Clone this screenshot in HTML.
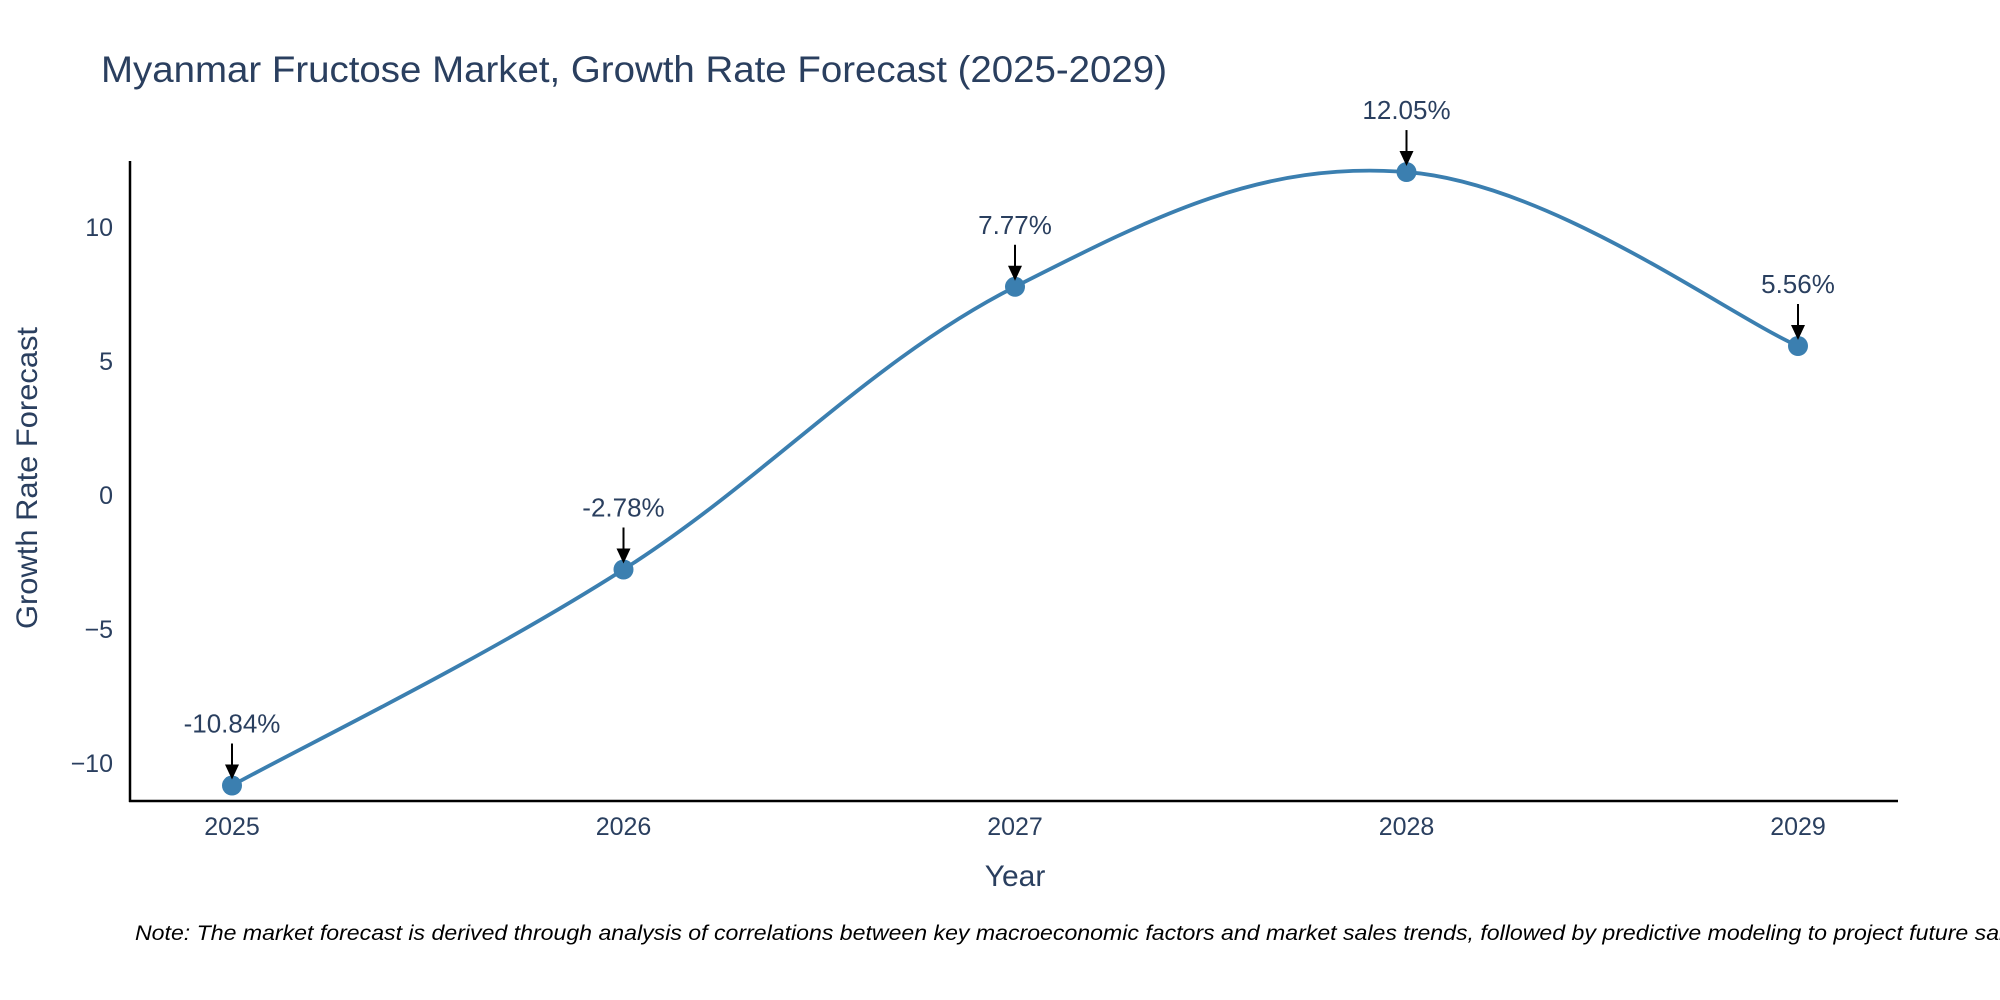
<!DOCTYPE html>
<html><head><meta charset="utf-8"><style>
html,body{margin:0;padding:0;background:#fff;}
svg{display:block;font-family:"Liberation Sans",sans-serif;}
</style></head><body>
<svg id="chart" width="2000" height="1000" viewBox="0 0 2000 1000">
<text x="101" y="82" font-size="37" textLength="1066" lengthAdjust="spacingAndGlyphs" fill="#2a3f5f">Myanmar Fructose Market, Growth Rate Forecast (2025-2029)</text>
<g id="yticks"></g>
<g id="xticks"></g>
<line x1="130" y1="161" x2="130" y2="802" stroke="#000" stroke-width="2.5"/>
<line x1="129" y1="801" x2="1898" y2="801" stroke="#000" stroke-width="2.5"/>
<text transform="translate(37,478) rotate(-90)" text-anchor="middle" font-size="30" textLength="302" lengthAdjust="spacingAndGlyphs" fill="#2a3f5f">Growth Rate Forecast</text>
<text x="1015" y="886" text-anchor="middle" font-size="30" fill="#2a3f5f">Year</text>
<g id="series"></g>
<g id="annots"></g>
<text x="135" y="940" font-size="21" font-style="italic" textLength="1900" lengthAdjust="spacingAndGlyphs" fill="#000">Note: The market forecast is derived through analysis of correlations between key macroeconomic factors and market sales trends, followed by predictive modeling to project future sales.</text>
</svg>
<script>
const categories = [2025, 2026, 2027, 2028, 2029];
const growthValues = [-10.84, -2.78, 7.77, 12.05, 5.56];
const valueLabels = ["-10.84%", "-2.78%", "7.77%", "12.05%", "5.56%"];
const yTickValues = [-10, -5, 0, 5, 10];
const yTickLabels = ["\u221210", "\u22125", "0", "5", "10"];

const NS = "http://www.w3.org/2000/svg";
function xs(year){ return 232 + (year - 2025) * 391.5; }
function ys(v){ return 495 - v * 26.8; }
function mk(tag, attrs, parent){
  const e = document.createElementNS(NS, tag);
  for (const k in attrs) e.setAttribute(k, attrs[k]);
  parent.appendChild(e);
  return e;
}
const yt = document.getElementById('yticks');
yTickValues.forEach((v,i)=>{
  const t = mk('text',{x:113,y:ys(v)+9,'text-anchor':'end','font-size':25,fill:'#2a3f5f'},yt);
  
  
  t.textContent = yTickLabels[i];
});
const xt = document.getElementById('xticks');
categories.forEach(c=>{
  const t = mk('text',{x:xs(c),y:835,'text-anchor':'middle','font-size':25,fill:'#2a3f5f'},xt);
  
  
  t.textContent = String(c);
});
const pts = categories.map((c,i)=>[xs(c), ys(growthValues[i])]);
let d = `M${pts[0][0]},${pts[0][1]}`;
const tn = 0.55;
for (let i=0;i<pts.length-1;i++){
  const p0 = pts[Math.max(0,i-1)], p1 = pts[i], p2 = pts[i+1], p3 = pts[Math.min(pts.length-1,i+2)];
  const c1 = [p1[0]+(p2[0]-p0[0])*tn/3, p1[1]+(p2[1]-p0[1])*tn/3];
  const c2 = [p2[0]-(p3[0]-p1[0])*tn/3, p2[1]-(p3[1]-p1[1])*tn/3];
  d += ` C${c1[0]},${c1[1]} ${c2[0]},${c2[1]} ${p2[0]},${p2[1]}`;
}
const sg = document.getElementById('series');
const line = mk('path',{d:d,fill:'none',stroke:'#3b7fb0','stroke-width':3.8},sg);


pts.forEach(p=>{
  const c = mk('circle',{cx:p[0],cy:p[1],r:10,fill:'#3b7fb0'},sg);
  
  
});
const an = document.getElementById('annots');
pts.forEach((p,i)=>{
  const l = mk('line',{x1:p[0],y1:p[1]-42,x2:p[0],y2:p[1]-20,stroke:'#000','stroke-width':2},an);
  
  
  const h = mk('path',{d:`M${p[0]-7},${p[1]-21} L${p[0]+7},${p[1]-21} L${p[0]},${p[1]-6} Z`,fill:'#000'},an);
  
  
  const t = mk('text',{x:p[0],y:p[1]-53,'text-anchor':'middle','font-size':26,fill:'#2a3f5f'},an);
  
  
  t.textContent = valueLabels[i];
});
</script>
</body></html>
